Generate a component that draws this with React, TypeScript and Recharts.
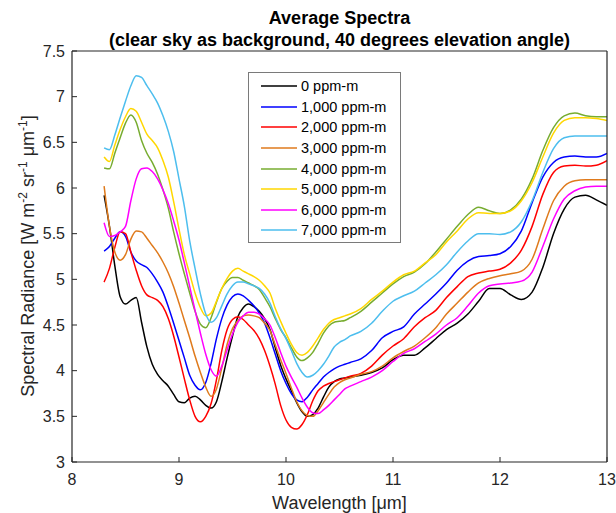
import { LineChart, Line, XAxis, YAxis, Legend } from 'recharts';

const FONT = '"Liberation Sans", Arial, Helvetica, sans-serif';
const AXIS = '#262626';

// wavelength grid [µm]
const wavelength = [
  8.3, 8.35, 8.4, 8.45, 8.5, 8.55, 8.6, 8.65, 8.7, 8.75,
  8.8, 8.85, 8.9, 8.95, 9.0, 9.05, 9.1, 9.15, 9.2, 9.25,
  9.3, 9.35, 9.4, 9.45, 9.5, 9.55, 9.6, 9.65, 9.7, 9.75,
  9.8, 9.85, 9.9, 9.95, 10.0, 10.05, 10.1, 10.15, 10.2, 10.25,
  10.3, 10.35, 10.4, 10.45, 10.5, 10.55, 10.6,
  10.7, 10.8, 10.9, 11.0, 11.1, 11.2, 11.3, 11.4, 11.5, 11.6,
  11.7, 11.8, 11.9, 12.0, 12.1, 12.2, 12.3, 12.4, 12.5, 12.6,
  12.7, 12.8, 12.9, 13.0,
];

const ppm0 = [
  5.92, 5.58, 5.15, 4.81, 4.73, 4.77, 4.8, 4.53, 4.26, 4.07,
  3.96, 3.89, 3.83, 3.74, 3.66, 3.65, 3.7, 3.72, 3.68, 3.62,
  3.59, 3.66, 3.88, 4.14, 4.38, 4.59, 4.69, 4.73, 4.7, 4.65,
  4.57, 4.45, 4.25, 4.06, 3.91, 3.78, 3.65, 3.55, 3.5, 3.52,
  3.59, 3.71, 3.82, 3.88, 3.91, 3.92, 3.93,
  3.95, 3.98, 4.03, 4.12, 4.17, 4.17, 4.25, 4.35, 4.45, 4.52,
  4.62, 4.76, 4.9, 4.9, 4.83, 4.78, 4.86, 5.13, 5.5, 5.77,
  5.9, 5.92, 5.87, 5.81,
];

const ppm1000 = [
  5.31, 5.36, 5.45, 5.52, 5.47, 5.3, 5.2, 5.16, 5.13, 5.06,
  4.97, 4.86, 4.7, 4.52, 4.33, 4.14, 3.95, 3.84, 3.79, 3.87,
  4.08, 4.35, 4.57, 4.72, 4.81, 4.84, 4.82, 4.77, 4.71, 4.63,
  4.52, 4.36, 4.18, 4.0, 3.86, 3.75, 3.68, 3.66, 3.71, 3.79,
  3.86, 3.93, 3.98, 4.02, 4.05, 4.07, 4.09,
  4.13, 4.22, 4.36, 4.43, 4.48, 4.62, 4.73, 4.84, 4.96, 5.1,
  5.2, 5.25, 5.26, 5.28, 5.36, 5.53, 5.84, 6.12, 6.28, 6.34,
  6.35, 6.34, 6.34, 6.38,
];

const ppm2000 = [
  4.97, 5.12, 5.35, 5.52, 5.5, 5.3, 5.1, 4.93, 4.83, 4.8,
  4.77, 4.7, 4.57, 4.38, 4.15, 3.91, 3.68, 3.5, 3.44, 3.5,
  3.64, 3.9, 4.22, 4.45, 4.56, 4.59, 4.56, 4.5, 4.44, 4.35,
  4.22, 4.05, 3.85, 3.62, 3.46, 3.38, 3.36, 3.41, 3.52, 3.67,
  3.78, 3.83, 3.86, 3.88, 3.9, 3.92, 3.94,
  3.97, 4.05, 4.17, 4.27, 4.35, 4.48, 4.58, 4.66, 4.8, 4.92,
  5.03, 5.07, 5.09, 5.11, 5.18, 5.32, 5.58, 5.93, 6.17, 6.24,
  6.25, 6.24, 6.25, 6.3,
];

const ppm3000 = [
  6.02, 5.58, 5.3, 5.21, 5.27, 5.44, 5.53, 5.52, 5.45, 5.37,
  5.29, 5.19, 5.07, 4.92, 4.74, 4.55, 4.36, 4.16, 3.98, 3.82,
  3.72, 3.8, 4.03, 4.29, 4.46, 4.55, 4.6, 4.61, 4.6, 4.58,
  4.52, 4.44, 4.28, 4.12, 3.97, 3.81, 3.66, 3.56, 3.51, 3.5,
  3.56, 3.65, 3.74, 3.82, 3.87, 3.9, 3.92,
  3.96, 3.99, 4.05, 4.14, 4.21, 4.27, 4.36, 4.47, 4.62, 4.74,
  4.86, 4.96, 5.01, 5.04, 5.06, 5.09, 5.22, 5.55, 5.86, 6.02,
  6.08, 6.09, 6.09, 6.09,
];

const ppm4000 = [
  6.22, 6.21, 6.38, 6.55, 6.71, 6.8, 6.72, 6.52, 6.38, 6.28,
  6.15, 5.98, 5.78, 5.52, 5.28, 5.06, 4.85, 4.65, 4.51, 4.47,
  4.58, 4.75, 4.9, 4.98, 5.02, 5.02, 4.99, 4.96, 4.93, 4.89,
  4.8, 4.7, 4.57, 4.45, 4.36, 4.25, 4.15, 4.11, 4.14, 4.2,
  4.3, 4.41, 4.49, 4.53, 4.54, 4.55, 4.58,
  4.65, 4.75, 4.85, 4.95, 5.03, 5.08, 5.17, 5.3, 5.44, 5.58,
  5.71, 5.79, 5.75, 5.72, 5.76, 5.88, 6.1, 6.41, 6.66, 6.79,
  6.82, 6.79, 6.78, 6.78,
];

const ppm5000 = [
  6.34, 6.29, 6.47, 6.64, 6.78, 6.87, 6.84, 6.72, 6.59, 6.52,
  6.44, 6.3, 6.12, 5.85, 5.55, 5.27, 5.06, 4.85, 4.69, 4.6,
  4.63, 4.76, 4.9, 5.01, 5.09, 5.12, 5.09, 5.06, 5.03, 4.99,
  4.93, 4.85, 4.68, 4.54, 4.41, 4.29, 4.2, 4.17, 4.2, 4.27,
  4.36, 4.45, 4.52, 4.56, 4.58, 4.6, 4.62,
  4.68, 4.78, 4.87, 4.97, 5.05, 5.09, 5.18, 5.27, 5.41, 5.53,
  5.66, 5.73, 5.72, 5.72, 5.75, 5.86, 6.06, 6.34, 6.6, 6.74,
  6.77, 6.77, 6.76, 6.74,
];

const ppm6000 = [
  5.62, 5.47, 5.48, 5.52, 5.58, 5.86, 6.1, 6.21, 6.22, 6.18,
  6.1, 5.98, 5.83, 5.64, 5.43, 5.18, 4.92, 4.66, 4.41, 4.18,
  4.01, 3.94, 4.05, 4.23, 4.4, 4.53, 4.6, 4.64, 4.64, 4.62,
  4.57, 4.5, 4.36, 4.2, 4.05, 3.93, 3.82, 3.7, 3.6, 3.54,
  3.53, 3.57, 3.62, 3.68, 3.74, 3.8, 3.83,
  3.88, 3.93, 4.0, 4.1, 4.19, 4.24, 4.32, 4.4, 4.5, 4.58,
  4.71, 4.85, 4.93, 4.95, 4.96, 4.98, 5.08, 5.36, 5.66, 5.88,
  5.97, 6.01, 6.02, 6.02,
];

const ppm7000 = [
  6.44, 6.42, 6.58, 6.77, 6.95, 7.12, 7.23, 7.21, 7.12, 7.03,
  6.93, 6.79, 6.62, 6.4, 6.1, 5.8, 5.42, 5.12, 4.84, 4.62,
  4.53, 4.58, 4.71, 4.84, 4.93, 4.97, 4.97, 4.95, 4.93, 4.9,
  4.84, 4.74, 4.59, 4.46, 4.35, 4.22, 4.08, 3.98, 3.93, 3.95,
  4.0, 4.07, 4.16, 4.26, 4.31, 4.34, 4.38,
  4.43, 4.52, 4.65, 4.76, 4.82, 4.87, 4.96, 5.05, 5.16, 5.3,
  5.42, 5.5, 5.5, 5.49, 5.52, 5.63, 5.86, 6.17, 6.43, 6.55,
  6.57, 6.57, 6.57, 6.57,
];

const xTicks = [8, 9, 10, 11, 12, 13];
const yTicks = [3, 3.5, 4, 4.5, 5, 5.5, 6, 6.5, 7, 7.5];

const series = [
  { key: 'p0', name: '0 ppm-m', color: '#000000', values: ppm0 },
  { key: 'p1', name: '1,000 ppm-m', color: '#0000ff', values: ppm1000 },
  { key: 'p2', name: '2,000 ppm-m', color: '#ff0000', values: ppm2000 },
  { key: 'p3', name: '3,000 ppm-m', color: '#df7a1c', values: ppm3000 },
  { key: 'p4', name: '4,000 ppm-m', color: '#77ac30', values: ppm4000 },
  { key: 'p5', name: '5,000 ppm-m', color: '#ffd700', values: ppm5000 },
  { key: 'p6', name: '6,000 ppm-m', color: '#ff00ff', values: ppm6000 },
  { key: 'p7', name: '7,000 ppm-m', color: '#4dbeee', values: ppm7000 },
];

const rows = wavelength.map((w, i) => {
  const row: Record<string, number> = { w };
  series.forEach((s) => {
    row[s.key] = s.values[i];
  });
  return row;
});

const LegendBox = () => (
  <div
    style={{
      width: 153,
      height: 171,
      boxSizing: 'border-box',
      border: '1px solid #7a7a7a',
      background: '#fff',
      paddingTop: 3,
      fontFamily: FONT,
    }}
  >
    {series.map((s) => (
      <div key={s.key} style={{ display: 'flex', alignItems: 'center', height: 20.6 }}>
        <svg width={48} height={6} style={{ display: 'block' }}>
          <line x1={12} x2={48} y1={3} y2={3} stroke={s.color} strokeWidth={1.6} />
        </svg>
        <span style={{ marginLeft: 4, fontSize: 14.5, color: '#000', whiteSpace: 'nowrap' }}>{s.name}</span>
      </div>
    ))}
  </div>
);

const supStyle = { fontSize: 12, lineHeight: 0 };

export default function App() {
  return (
    <div style={{ position: 'relative', width: 616, height: 513, background: '#fff', fontFamily: FONT }}>
      <style>{'body { margin: 0; }'}</style>
      <LineChart width={616} height={513} data={rows} margin={{ top: 50, right: 8, bottom: 21, left: 32 }}>
        <XAxis
          dataKey="w"
          type="number"
          domain={[8, 13]}
          ticks={xTicks}
          allowDataOverflow
          height={30}
          tickSize={-5}
          tickMargin={17}
          axisLine={{ stroke: AXIS, strokeWidth: 1.2 }}
          tickLine={{ stroke: AXIS }}
          tick={{ fill: AXIS, fontSize: 16, fontFamily: FONT }}
        />
        <XAxis
          xAxisId="top"
          orientation="top"
          type="number"
          domain={[8, 13]}
          ticks={xTicks}
          height={1}
          tickSize={-5}
          tick={false}
          axisLine={{ stroke: AXIS, strokeWidth: 1.2 }}
          tickLine={{ stroke: AXIS }}
        />
        <YAxis
          type="number"
          domain={[3, 7.5]}
          ticks={yTicks}
          allowDataOverflow
          width={40}
          tickSize={-5}
          tickMargin={12}
          axisLine={{ stroke: AXIS, strokeWidth: 1.2 }}
          tickLine={{ stroke: AXIS }}
          tick={{ fill: AXIS, fontSize: 16, fontFamily: FONT }}
        />
        <YAxis
          yAxisId="right"
          orientation="right"
          type="number"
          domain={[3, 7.5]}
          ticks={yTicks}
          width={1}
          tickSize={-5}
          tick={false}
          axisLine={{ stroke: AXIS, strokeWidth: 1.2 }}
          tickLine={{ stroke: AXIS }}
        />
        {series.map((s) => (
          <Line
            key={s.key}
            dataKey={s.key}
            name={s.name}
            type="monotone"
            stroke={s.color}
            strokeWidth={1.5}
            dot={false}
            activeDot={false}
            isAnimationActive={false}
          />
        ))}
        <Legend
          layout="vertical"
          align="center"
          verticalAlign="middle"
          content={() => <LegendBox />}
          wrapperStyle={{ left: 248, top: 72, width: 153, height: 171 }}
        />
      </LineChart>

      <div
        style={{
          position: 'absolute',
          left: 40,
          width: 599,
          top: 7,
          textAlign: 'center',
          fontWeight: 'bold',
          fontSize: 18,
          lineHeight: '22px',
          color: '#000',
          whiteSpace: 'nowrap',
        }}
      >
        <div>Average Spectra</div>
        <div>(clear sky as background, 40 degrees elevation angle)</div>
      </div>

      <div
        style={{
          position: 'absolute',
          left: 72,
          width: 535,
          top: 492,
          textAlign: 'center',
          fontSize: 18,
          lineHeight: '22px',
          color: AXIS,
        }}
      >
        Wavelength [μm]
      </div>

      <div
        style={{
          position: 'absolute',
          left: 28 - 200,
          top: 256 - 11,
          width: 400,
          height: 22,
          lineHeight: '22px',
          textAlign: 'center',
          fontSize: 18,
          color: AXIS,
          transform: 'rotate(-90deg)',
          whiteSpace: 'nowrap',
        }}
      >
        Spectral Radiance [W m<sup style={supStyle}>-2</sup> sr<sup style={supStyle}>-1</sup> μm
        <sup style={supStyle}>-1</sup>]
      </div>
    </div>
  );
}
